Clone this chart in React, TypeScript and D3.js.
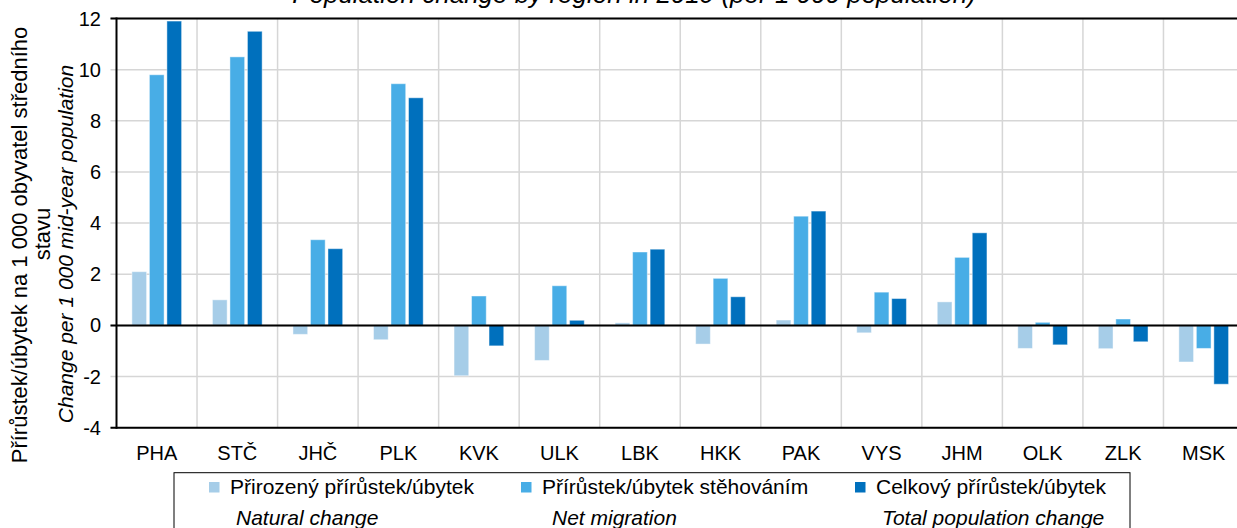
import React from "react";
import * as d3 from "d3";

// regions (kraje)
const regions = ["PHA", "STČ", "JHČ", "PLK", "KVK", "ULK", "LBK", "HKK", "PAK", "VYS", "JHM", "OLK", "ZLK", "MSK"];

// per 1 000 mid-year population
const natural = [2.1, 1.0, -0.35, -0.56, -1.97, -1.37, 0.1, -0.73, 0.21, -0.29, 0.92, -0.9, -0.91, -1.43];
const migration = [9.8, 10.5, 3.35, 9.45, 1.15, 1.55, 2.87, 1.84, 4.27, 1.3, 2.66, 0.12, 0.25, -0.9];
const total = [11.9, 11.5, 3.0, 8.9, -0.8, 0.2, 2.98, 1.12, 4.47, 1.05, 3.62, -0.76, -0.64, -2.3];

const yTicks = [-4, -2, 0, 2, 4, 6, 8, 10, 12];

const seriesCz = ["Přirozený přírůstek/úbytek", "Přírůstek/úbytek stěhováním", "Celkový přírůstek/úbytek"];
const seriesEn = ["Natural change", "Net migration", "Total population change"];
const colors = ["#A6CDE8", "#48ADE6", "#0070BD"];

const W = 1237, H = 528;
const left = 116.5, right = 1244, top = 18.5, bottom = 427.7;
const font = "'Liberation Sans', Arial, sans-serif";

export default function App() {
  const x = d3.scaleBand().domain(regions).range([left, right]).padding(0);
  const y = d3.scaleLinear().domain([-4, 12]).range([bottom, top]);
  const keys = [0, 1, 2].map(String);
  const x1 = d3.scaleBand().domain(keys).range([14, 66.5]).padding(0);
  const series = [natural, migration, total];

  const legendText = [230, 542, 876];
  const legendEn = [236, 552, 882];

  return (
    <svg width={W} height={H} style={{ position: "absolute", left: 0, top: 0, background: "#fff" }} fontFamily={font}>
      <rect width={W} height={H} fill="#fff" />
      {/* title, cut off at the top edge as in the source */}
      <text x={634} y={3} textAnchor="middle" fontSize={26} fontStyle="italic" fill="#000">
        Population change by region in 2019 (per 1 000 population)
      </text>

      {/* horizontal grid */}
      {yTicks.map((t) => (
        <line key={"h" + t} x1={left - 6} x2={right} y1={y(t)} y2={y(t)} stroke="#D6D6D6" strokeWidth={1.5} />
      ))}
      {/* vertical grid at band boundaries */}
      {regions.map((r, i) => (i > 0 ? (
        <line key={"v" + r} x1={x(r)!} x2={x(r)!} y1={top} y2={bottom} stroke="#D6D6D6" strokeWidth={1.5} />
      ) : null))}

      {/* bars */}
      {series.map((vals, s) => (
        <g key={"s" + s}>
          {vals.map((v, i) => {
            const bx = x(regions[i])! + x1(String(s))! + 1.4;
            const y0 = y(0), yv = y(v);
            return (
              <rect key={i} x={bx} width={x1.bandwidth() - 2.8} y={Math.min(y0, yv)} height={Math.abs(yv - y0)}
                fill={colors[s]} stroke="#fff" strokeOpacity={0.45} strokeWidth={1} />
            );
          })}
        </g>
      ))}

      {/* frame */}
      <line x1={left - 6} x2={right} y1={top} y2={top} stroke="#000" strokeWidth={2} />
      <line x1={left - 6} x2={right} y1={bottom} y2={bottom} stroke="#000" strokeWidth={2} />
      <line x1={left - 6} x2={right} y1={y(0)} y2={y(0)} stroke="#000" strokeWidth={2} />
      <line x1={left} x2={left} y1={top - 1} y2={bottom + 1} stroke="#000" strokeWidth={2} />

      {/* y tick labels */}
      {yTicks.map((t) => (
        <text key={"yt" + t} x={101} y={y(t) + 7} textAnchor="end" fontSize={20} fill="#000">{t}</text>
      ))}

      {/* category labels */}
      {regions.map((r) => (
        <text key={"c" + r} x={x(r)! + x.bandwidth() / 2} y={460} textAnchor="middle" fontSize={20} fill="#000">{r}</text>
      ))}

      {/* y axis title */}
      <g fill="#000">
        <text transform="translate(27,245) rotate(-90)" textAnchor="middle" fontSize={22}>Přírůstek/úbytek na 1 000 obyvatel středního</text>
        <text transform="translate(50,234) rotate(-90)" textAnchor="middle" fontSize={22}>stavu</text>
        <text transform="translate(73,244) rotate(-90)" textAnchor="middle" fontSize={21} fontStyle="italic">Change per 1 000 mid-year population</text>
      </g>

      {/* legend */}
      <rect x={174} y={472.7} width={956} height={80} fill="#fff" stroke="#000" strokeWidth={1} />
      {seriesCz.map((name, i) => (
        <g key={"l" + i}>
          <rect x={legendText[i] - 21} y={482} width={10.5} height={10.5} fill={colors[i]} />
          <text x={legendText[i]} y={494} fontSize={21} fill="#000">{name}</text>
          <text x={legendEn[i]} y={525} fontSize={21} fontStyle="italic" fill="#000">{seriesEn[i]}</text>
        </g>
      ))}
    </svg>
  );
}
